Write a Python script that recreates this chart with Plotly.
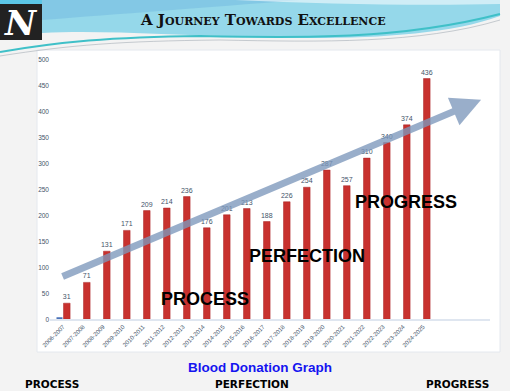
import plotly.graph_objects as go

W, H = 510, 391

categories = ["2006-2007", "2007-2008", "2008-2009", "2009-2010", "2010-2011",
              "2011-2012", "2012-2013", "2013-2014", "2014-2015", "2015-2016",
              "2016-2017", "2017-2018", "2018-2019", "2019-2020", "2020-2021",
              "2021-2022", "2022-2023", "2023-2024", "2024-2025"]
# bar heights as drawn in the picture
donations = [31, 71, 131, 171, 209, 214, 236, 176, 201, 213, 188, 226, 254,
             287, 257, 310, 340, 374, 463]
# data labels as printed in the picture
donation_labels = ["31", "71", "131", "171", "209", "214", "236", "176", "201",
                   "213", "188", "226", "254", "287", "257", "310", "340", "374", "436"]
# small second series (only visible in first category)
other_series = [2, 0, 0, 0, 0, 0, 0, 0, 0, 0, 0, 0, 0, 0, 0, 0, 0, 0, 0]
y_ticks = [0, 50, 100, 150, 200, 250, 300, 350, 400, 450, 500]


def px(x):
    return x / W


def py(y):
    return 1 - y / H


def path(points_cmds):
    out = []
    for item in points_cmds:
        if isinstance(item, str):
            out.append(item)
        else:
            out.append(f"{px(item[0]):.4f},{py(item[1]):.4f}")
    return " ".join(out)


fig = go.Figure()

fig.add_trace(go.Bar(
    x=categories, y=other_series, name="Series 1",
    marker=dict(color="#4a72b8"), width=0.3, offset=-0.33,
    hoverinfo="skip",
))
fig.add_trace(go.Bar(
    x=categories, y=donations, name="Blood Donation",
    marker=dict(color="#c8312e", line=dict(color="#a82527", width=0.5)),
    width=0.33, offset=0.02,
    text=donation_labels, textposition="outside", constraintext="none",
    cliponaxis=False,
    textfont=dict(size=7, color="#44546a", family="Liberation Sans"),
))

shapes = []
# chart image white background
shapes.append(dict(type="rect", xref="paper", yref="paper", layer="below",
                   x0=px(37), x1=px(500), y0=py(352), y1=py(50),
                   fillcolor="white", line=dict(color="#e4e8ee", width=1)))
# header blue band
shapes.append(dict(type="path", xref="paper", yref="paper", layer="below",
                   path=path(["M", (42, 0), "L", (500, 0), "L", (500, 16),
                              "C", (440, 38), (340, 40), (250, 37),
                              "C", (170, 35), (100, 30), (42, 33), "Z"]),
                   fillcolor="#95d8ea", line=dict(width=0)))
shapes.append(dict(type="path", xref="paper", yref="paper", layer="below",
                   path=path(["M", (42, 0), "L", (300, 0),
                              "C", (200, 8), (120, 14), (42, 20), "Z"]),
                   fillcolor="rgba(120,190,225,0.6)", line=dict(width=0)))
# white swoosh top right
shapes.append(dict(type="path", xref="paper", yref="paper", layer="below",
                   path=path(["M", (235, 0), "C", (320, 4), (420, 6), (500, 4),
                              "L", (500, 0), "Z"]),
                   fillcolor="rgba(255,255,255,0.55)", line=dict(width=0)))
# teal swoosh lines
shapes.append(dict(type="path", xref="paper", yref="paper", layer="below",
                   path=path(["M", (0, 52), "C", (60, 42), (110, 37), (200, 36),
                              "C", (300, 38), (400, 40), (500, 14)]),
                   line=dict(color="#3fc0c8", width=2)))
shapes.append(dict(type="path", xref="paper", yref="paper", layer="below",
                   path=path(["M", (0, 56), "C", (70, 45), (120, 41), (220, 40),
                              "C", (320, 42), (420, 44), (500, 20)]),
                   line=dict(color="rgba(150,160,170,0.5)", width=1)))
# logo
shapes.append(dict(type="rect", xref="paper", yref="paper", layer="below",
                   x0=px(0), x1=px(42), y0=py(40), y1=py(0),
                   fillcolor="#222222", line=dict(width=0)))
shapes.append(dict(type="rect", xref="paper", yref="paper", layer="below",
                   x0=px(0), x1=px(42), y0=py(4), y1=py(0),
                   fillcolor="#5cc6e6", line=dict(width=0)))

annotations = []
annotations.append(dict(text="N", x=px(21), y=py(23), xref="paper", yref="paper",
                        showarrow=False, xanchor="center", yanchor="middle",
                        font=dict(family="DejaVu Serif", size=34, color="white",
                                  style="italic", weight="bold")))
annotations.append(dict(text="A Journey Towards Excellence", x=px(263), y=py(20),
                        xref="paper", yref="paper", showarrow=False,
                        xanchor="center", yanchor="middle",
                        font=dict(family="DejaVu Serif", size=15, color="#111111",
                                  weight="bold", variant="small-caps")))
# trend arrow
annotations.append(dict(x=20.9, y=422, ax=-0.1, ay=81, xref="x", yref="y",
                        axref="x", ayref="y", text="", showarrow=True,
                        arrowhead=2, arrowsize=0.85, arrowwidth=7,
                        arrowcolor="rgba(125,152,188,0.78)"))
big_font = dict(family="Liberation Sans", size=18, color="black", weight="bold")
for word, cx, cy in [("PROCESS", 205, 299), ("PERFECTION", 307, 256),
                     ("PROGRESS", 406, 202)]:
    annotations.append(dict(text=word, x=px(cx), y=py(cy), xref="paper", yref="paper",
                            showarrow=False, xanchor="center", yanchor="middle",
                            font=big_font))
annotations.append(dict(text="Blood Donation Graph", x=px(260), y=py(367),
                        xref="paper", yref="paper", showarrow=False,
                        xanchor="center", yanchor="middle",
                        font=dict(family="Liberation Sans", size=13.5,
                                  color="#1414f0", weight="bold")))
small_font = dict(family="DejaVu Sans", size=10.5, color="black", weight="bold")
for word, cx in [("PROCESS", 52), ("PERFECTION", 252), ("PROGRESS", 457)]:
    annotations.append(dict(text=word, x=px(cx), y=py(384), xref="paper", yref="paper",
                            showarrow=False, xanchor="center", yanchor="middle",
                            font=small_font))

fig.update_layout(
    width=W, height=H,
    margin=dict(l=0, r=0, t=0, b=0),
    template="none",
    paper_bgcolor="#f3f3f3",
    plot_bgcolor="rgba(0,0,0,0)",
    showlegend=False,
    barmode="overlay",
    shapes=shapes,
    annotations=annotations,
    xaxis=dict(domain=[px(50), px(490)], range=[-0.655, 21.345],
               type="category", tickangle=-45, showgrid=False,
               showline=True, linecolor="#dfe6f0", linewidth=1.5,
               ticks="", automargin=False,
               tickfont=dict(size=6, color="#44546a", family="Liberation Sans")),
    yaxis=dict(domain=[py(319.3), py(59.3)], range=[0, 500], tickvals=y_ticks,
               showgrid=False, zeroline=False, showline=False, ticks="",
               automargin=False,
               tickfont=dict(size=6.5, color="#44546a", family="Liberation Sans")),
)

fig.write_html(
    "out.html",
    config={"displayModeBar": False},
    post_script="document.body.style.margin='0';document.body.style.overflow='hidden';",
)
